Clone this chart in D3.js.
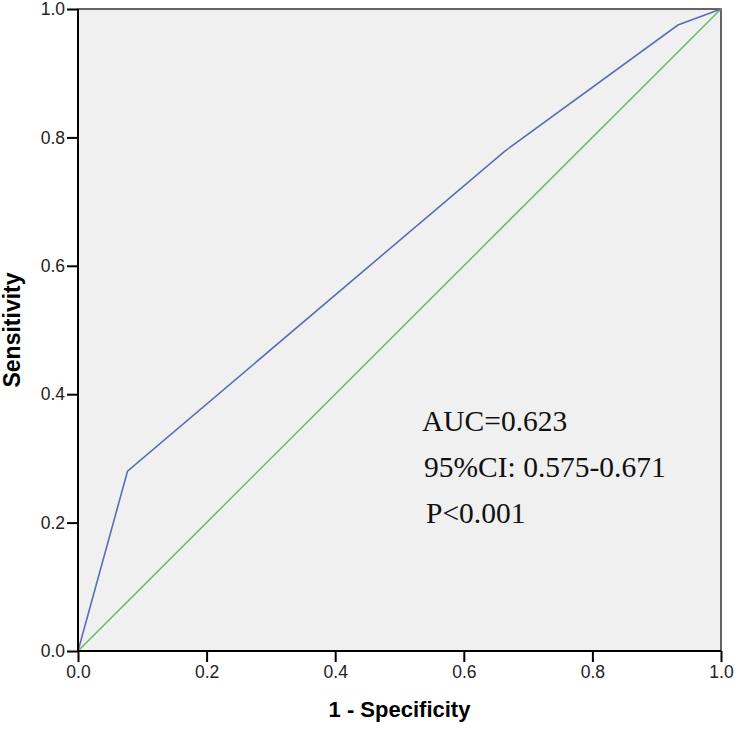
<!DOCTYPE html>
<html>
<head>
<meta charset="utf-8">
<script src="https://cdn.jsdelivr.net/npm/d3@7"></script>
<style>
  body { margin: 0; background: #fff; }
  svg { display: block; }
</style>
</head>
<body>
<div id="chart"></div>
<script>
// Data
var fpr = [0, 0.077, 0.663, 0.933, 1];
var tpr = [0, 0.28, 0.778, 0.975, 1];
var refLine = [0, 1];
var tickValues = [0, 0.2, 0.4, 0.6, 0.8, 1.0];
var notes = ["AUC=0.623", "95%CI: 0.575-0.671", "P<0.001"];

// Canvas
var margin = { top: 9, right: 14, bottom: 79, left: 78 };
var width = 735 - margin.left - margin.right;
var height = 730 - margin.top - margin.bottom;

var svg = d3.select("#chart").append("svg")
    .attr("width", 735)
    .attr("height", 730)
    .append("g")
    .attr("transform", "translate(" + margin.left + "," + margin.top + ")");

var x = d3.scaleLinear().domain([0, 1]).range([0, width]);
var y = d3.scaleLinear().domain([0, 1]).range([height, 0]);

svg.append("rect")
    .attr("width", width)
    .attr("height", height)
    .style("fill", "#f0f0f0")
    .style("stroke", "#333")
    .style("stroke-width", 1.5);

// diagonal reference
svg.append("path")
    .datum(refLine)
    .attr("d", d3.line().x(function(d) { return x(d); }).y(function(d) { return y(d); }))
    .style("fill", "none")
    .style("stroke", "#5fbf5f")
    .style("stroke-width", 1.5);

// ROC curve
var pts = fpr.map(function(d, i) { return [d, tpr[i]]; });
svg.append("path")
    .datum(pts)
    .attr("d", d3.line().x(function(d) { return x(d[0]); }).y(function(d) { return y(d[1]); }))
    .style("fill", "none")
    .style("stroke", "#5b6db5")
    .style("stroke-width", 1.6);

// Axes
var fmt = d3.format(".1f");
var xAxis = svg.append("g")
    .attr("transform", "translate(0," + height + ")")
    .call(d3.axisBottom(x).tickValues(tickValues).tickFormat(fmt).tickSize(11).tickPadding(4));
var yAxis = svg.append("g")
    .call(d3.axisLeft(y).tickValues(tickValues).tickFormat(fmt).tickSize(11).tickPadding(2));

[xAxis, yAxis].forEach(function(a) {
    a.select(".domain").style("stroke", "#000").style("stroke-width", 2);
    a.selectAll(".tick line").style("stroke", "#000").style("stroke-width", 2);
    a.selectAll("text")
        .style("font-family", "Arial, 'Liberation Sans', sans-serif")
        .style("font-size", "17.5px")
        .style("fill", "#222");
});
xAxis.select(".domain").attr("d", "M0,0H" + width);
yAxis.select(".domain").attr("d", "M0,0V" + height);

// Axis titles
svg.append("text")
    .attr("x", width / 2)
    .attr("y", height + 66)
    .attr("text-anchor", "middle")
    .style("font-family", "Arial, 'Liberation Sans', sans-serif")
    .style("font-weight", "bold")
    .style("font-size", "22px")
    .text("1 - Specificity");

svg.append("text")
    .attr("transform", "translate(" + (-58) + "," + (height / 2) + ") rotate(-90)")
    .attr("text-anchor", "middle")
    .style("font-family", "Arial, 'Liberation Sans', sans-serif")
    .style("font-weight", "bold")
    .style("font-size", "23px")
    .text("Sensitivity");

// Annotation
svg.selectAll(".note")
    .data(notes)
    .enter().append("text")
    .attr("class", "note")
    .attr("x", function(d, i) { return 344 + i * 2; })
    .attr("y", function(d, i) { return 422 + i * 46; })
    .style("font-family", "'Liberation Serif', 'Times New Roman', serif")
    .style("font-size", "29.5px")
    .style("fill", "#111")
    .text(function(d) { return d; });
</script>
</body>
</html>
